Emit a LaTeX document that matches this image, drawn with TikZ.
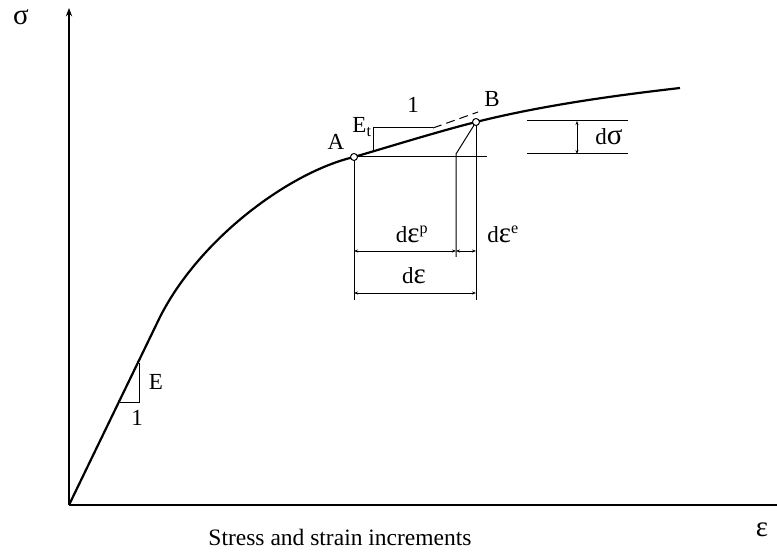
\documentclass[tikz,border=0pt]{standalone}
\usepackage{fontspec}
\setmainfont{Liberation Serif}
\usetikzlibrary{arrows.meta}

% greek letters are set larger, as in the drawing
\newcommand{\grk}[1]{{\fontsize{29}{29}\selectfont #1}}

\tikzset{
  curve/.style={line width=2.2pt, line join=round},
  thin line/.style={line width=1pt},
  dim/.style={line width=0.9pt, {Stealth[length=4pt,width=3pt]}-{Stealth[length=4pt,width=3pt]}},
  lbl/.style={font=\fontsize{23}{25}\selectfont, inner sep=1pt},
  point/.style={circle, draw, line width=1pt, fill=white, inner sep=0pt, minimum size=7pt}
}

\begin{document}
\begin{tikzpicture}[x=1pt, y=-1pt, >=Stealth]
    \useasboundingbox (0,0) rectangle (777,553);

    % axes
    \coordinate (O) at (69,505);
    \coordinate (Ytop) at (69,8);
    \coordinate (Xend) at (777,505);
    \draw[line width=1.2pt, ->] (O) -- (Ytop);
    \draw[line width=1.2pt] (O) -- (Xend);
    \node[lbl] (sig) at (21,17) {\grk{σ}};
    \node[lbl] (eps) at (762,530) {\grk{ε}};
    \node[font=\fontsize{23.5}{25}\selectfont] (title) at (340,537) {Stress and strain increments};

    % points A and B
    \coordinate (A) at (354,157);
    \coordinate (B) at (476,122);
    \coordinate (K) at (160,317);
    \coordinate (C) at (680,88);

    % stress-strain curve
    \draw[curve] (O) -- (K) .. controls (200,238) and (290,172) .. (A)
        .. controls (395,145) and (440,131) .. (B)
        .. controls (540,106) and (610,96) .. (C);

    % initial slope E
    \coordinate (E1) at (120,403);
    \coordinate (E2) at (139,403);
    \coordinate (E3) at (139,363);
    \draw[thin line] (E1) -- (E2) -- (E3);
    \node[lbl] (Elbl) at (156,382) {E};
    \node[lbl] (Eone) at (137,418) {1};

    \coordinate (Ah) at (487,157);
    \coordinate (Abot) at (354,300);
    \coordinate (Bbot) at (476,300);
    \coordinate (Mtop) at (456,154);
    \coordinate (Mbot) at (456,257);
    \draw[thin line] (A) -- (Ah);
    \draw[thin line] (A) -- (Abot);
    \draw[thin line] (B) -- (Bbot);
    \draw[thin line] (B) -- (Mtop) -- (Mbot);

    % tangent E_t
    \coordinate (T1) at (373,151);
    \coordinate (T2) at (373,128);
    \coordinate (T3) at (433,128);
    \coordinate (T4) at (478,112);
    \draw[thin line] (T1) -- (T2) -- (T3);
    \draw[thin line, dashed, dash pattern=on 9pt off 5pt] (T3) -- (T4);
    \node[lbl] (Et) at (362,127) {E\textsubscript{t}};
    \node[lbl] (tone) at (413,105) {1};

    \node[point] (Apt) at (A) {};
    \node[point] (Bpt) at (B) {};
    \node[lbl] (Albl) at (336,142) {A};
    \node[lbl] (Blbl) at (492,99) {B};

    % strain increments
    \coordinate (P1) at (354,251);
    \coordinate (P2) at (456,251);
    \coordinate (P3) at (476,251);
    \draw[dim] (P1) -- (P2);
    \draw[dim] (P2) -- (P3);
    \node[lbl] (dep) at (412,234) {d\grk{ε}\textsuperscript{p}};
    \node[lbl] (dee) at (503,234) {d\grk{ε}\textsuperscript{e}};
    \coordinate (Q1) at (354,293);
    \coordinate (Q2) at (476,293);
    \draw[dim] (Q1) -- (Q2);
    \node[lbl] (de) at (414,276) {d\grk{ε}};

    % stress increment
    \coordinate (S1) at (527,121);
    \coordinate (S2) at (628,121);
    \coordinate (S3) at (527,154);
    \coordinate (S4) at (628,154);
    \coordinate (S5) at (577,121);
    \coordinate (S6) at (577,154);
    \draw[thin line] (S1) -- (S2);
    \draw[thin line] (S3) -- (S4);
    \draw[dim] (S5) -- (S6);
    \node[lbl] (ds) at (609,137) {d\grk{σ}};
\end{tikzpicture}
\end{document}
